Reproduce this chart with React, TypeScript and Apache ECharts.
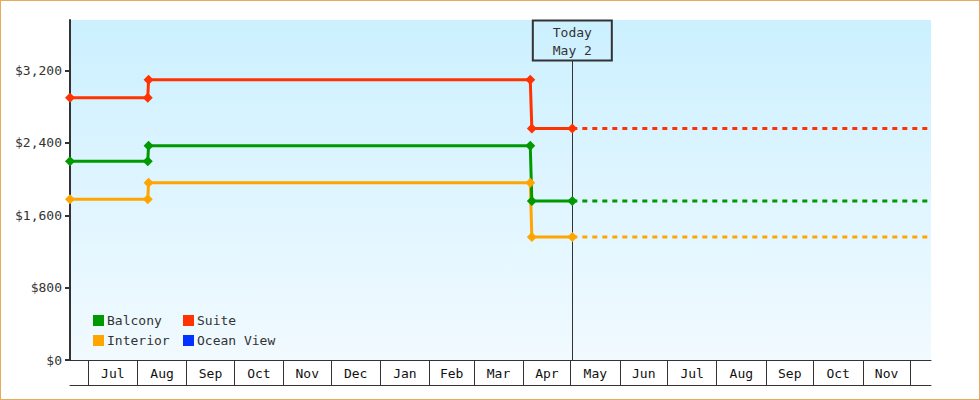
import React, { useEffect, useRef } from "react";
import * as echarts from "echarts";

// ---- data ----
const axisStart = "2022-06-19 12:00";
const axisEnd = "2023-12-14";
const todayDate = "2023-05-02";
const todayText = "May 2";
const markerTopValue = 3312;

const monthStarts = [
  "2022-07-01", "2022-08-01", "2022-09-01", "2022-10-01", "2022-11-01", "2022-12-01",
  "2023-01-01", "2023-02-01", "2023-03-01", "2023-04-01", "2023-05-01", "2023-06-01",
  "2023-07-01", "2023-08-01", "2023-09-01", "2023-10-01", "2023-11-01", "2023-12-01",
];
const monthLabels = [
  "Jul", "Aug", "Sep", "Oct", "Nov", "Dec", "Jan", "Feb", "Mar", "Apr", "May", "Jun",
  "Jul", "Aug", "Sep", "Oct", "Nov",
];
const yTicks = [0, 800, 1600, 2400, 3200];
const yMax = 3760;

const priceDates = [axisStart, "2022-08-07 12:00", "2022-08-08", "2023-04-05 12:00", "2023-04-06 12:00", todayDate];
const balconyPrices = [2199, 2199, 2369, 2369, 1759, 1759];
const suitePrices = [2899, 2899, 3099, 3099, 2559, 2559];
const interiorPrices = [1779, 1779, 1959, 1959, 1359, 1359];
const oceanViewPrices: number[] = [];

const seriesNames = ["Balcony", "Suite", "Interior", "Ocean View"];
const seriesColors = ["#009900", "#ff3300", "#ffa500", "#0033ff"];

export default function App() {
  const ref = useRef<HTMLDivElement>(null);

  useEffect(() => {
    if (!ref.current) return;
    const chart = echarts.init(ref.current, null, { renderer: "svg" });

    const ts = (s: string) => new Date(s.replace(" ", "T")).getTime();
    const startsTs = monthStarts.map(ts);
    const mids = monthLabels.map((_, i) => (startsTs[i] + startsTs[i + 1]) / 2);
    const labelOf = (v: number) => {
      let best = 0;
      let bd = Infinity;
      mids.forEach((m, i) => {
        const d = Math.abs(m - v);
        if (d < bd) { bd = d; best = i; }
      });
      return monthLabels[best];
    };

    const allPrices = [balconyPrices, suitePrices, interiorPrices, oceanViewPrices];
    const font = "DejaVu Sans Mono";
    const txt = "#333";

    const dashed: any[] = [];
    const solid: any[] = [];
    allPrices.forEach((prices, i) => {
      const color = seriesColors[i];
      const name = seriesNames[i];
      const pts = prices.map((p, j) => [ts(priceDates[j]), p]);
      solid.push({
        name,
        type: "line",
        color,
        data: pts,
        symbol: "diamond",
        symbolSize: 10,
        showAllSymbol: true,
        lineStyle: { width: 3, color },
        itemStyle: { color },
        z: 4,
      });
      if (prices.length) {
        const last = prices[prices.length - 1];
        dashed.push({
          name,
          type: "line",
          color,
          data: [[ts(todayDate), last], [ts(axisEnd), last]],
          symbol: "none",
          showSymbol: false,
          lineStyle: { width: 3, color, type: [5, 5] },
          z: 2,
        });
      }
    });
    const solidOrdered = [solid[3], solid[2], solid[1], solid[0]];

    const todayLine = {
      type: "line",
      name: "today",
      data: [],
      z: 1,
      markLine: {
        silent: true,
        z: 1,
        symbol: ["none", "none"],
        animation: false,
        lineStyle: { color: "#333", width: 1, type: "solid" },
        label: {
          show: true,
          position: "end",
          distance: 0,
          formatter: "Today\n" + todayText,
          fontFamily: font,
          fontSize: 13,
          color: txt,
          lineHeight: 18,
          width: 79,
          align: "center",
          padding: [3, 0, 1, 0],
          borderColor: "#333",
          borderWidth: 1,
          backgroundColor: "rgba(0,0,0,0)",
        },
        data: [[{ coord: [ts(todayDate), 0] }, { coord: [ts(todayDate), markerTopValue] }]],
      },
    };

    const legendCommon = {
      orient: "vertical",
      itemWidth: 11,
      itemHeight: 11,
      itemGap: 7,
      padding: 0,
      icon: "rect",
      selectedMode: false,
      textStyle: { fontFamily: font, fontSize: 13, color: txt, padding: [0, 0, 0, -2] },
      top: 313,
    };

    chart.setOption({
      animation: false,
      textStyle: { fontFamily: font, fontSize: 13, color: txt },
      grid: {
        left: 69,
        top: 19,
        right: 48,
        bottom: 39,
        show: true,
        borderWidth: 0,
        backgroundColor: new echarts.graphic.LinearGradient(0, 0, 0, 1, [
          { offset: 0, color: "#ccf0ff" },
          { offset: 1, color: "#f1faff" },
        ]),
      },
      legend: [
        { ...legendCommon, left: 92, data: [seriesNames[0], seriesNames[2]] },
        { ...legendCommon, left: 182, data: [seriesNames[1], seriesNames[3]] },
      ],
      xAxis: [
        {
          type: "value",
          min: ts(axisStart),
          max: ts(axisEnd),
          axisLine: { show: true, onZero: false, lineStyle: { color: "#333", width: 1 } },
          axisTick: {
            show: true,
            customValues: startsTs,
            length: 25,
            lineStyle: { color: "#333", width: 1 },
          },
          axisLabel: {
            show: true,
            customValues: mids,
            formatter: (v: number) => labelOf(v),
            margin: 7,
            fontFamily: font,
            fontSize: 13,
            color: "#111",
          },
          splitLine: { show: false },
        },
        {
          type: "value",
          position: "bottom",
          offset: 25,
          min: ts(axisStart),
          max: ts(axisEnd),
          axisLine: { show: true, onZero: false, lineStyle: { color: "#333", width: 1 } },
          axisTick: { show: false },
          axisLabel: { show: false },
          splitLine: { show: false },
        },
      ],
      yAxis: {
        type: "value",
        min: 0,
        max: yMax,
        axisLine: { show: true, lineStyle: { color: "#333", width: 2 } },
        axisTick: { show: true, customValues: yTicks, length: 5, lineStyle: { color: "#333", width: 2 } },
        axisLabel: {
          show: true,
          customValues: yTicks,
          margin: 8,
          fontFamily: font,
          fontSize: 13,
          color: txt,
          formatter: (v: number) => "$" + v.toLocaleString("en-US"),
        },
        splitLine: { show: false },
      },
      series: [todayLine, ...dashed, ...solidOrdered],
    });

    return () => chart.dispose();
  }, []);

  return (
    <div
      style={{
        position: "absolute",
        left: 0,
        top: 0,
        width: 980,
        height: 400,
        boxSizing: "border-box",
        border: "1px solid #e8a860",
        background: "#fff",
      }}
    >
      <div ref={ref} style={{ width: 978, height: 398 }} />
    </div>
  );
}
